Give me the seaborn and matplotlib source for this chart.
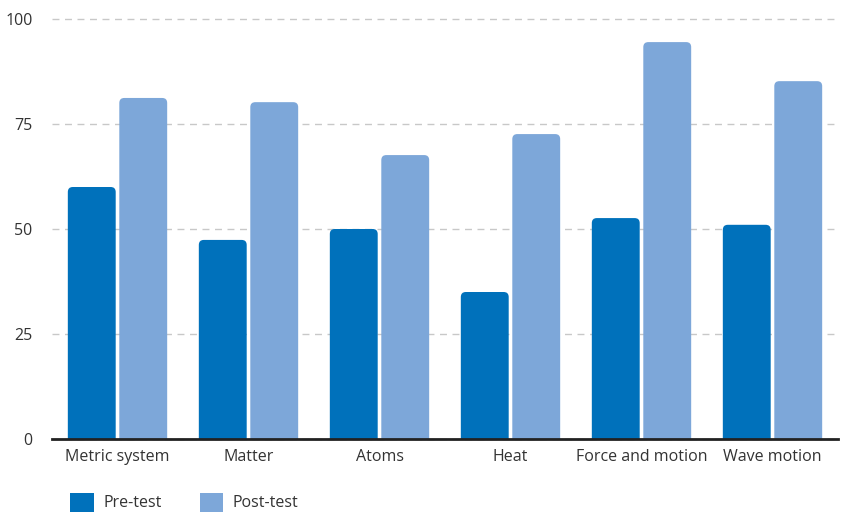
import matplotlib
matplotlib.use("Agg")
import matplotlib.pyplot as plt
import seaborn as sns
import pandas as pd
from matplotlib.patches import FancyBboxPatch, Patch

categories = ["Metric system", "Matter", "Atoms", "Heat", "Force and motion", "Wave motion"]
pre_test = [60, 47.4, 50, 35, 52.6, 51]
post_test = [81.2, 80.2, 67.6, 72.6, 94.5, 85.2]
series = ["Pre-test", "Post-test"]
colors = ["#0071BB", "#7DA7D9"]
yticks = [0, 25, 50, 75, 100]

df = pd.DataFrame({
    "category": categories * 2,
    "value": pre_test + post_test,
    "series": [series[0]] * len(categories) + [series[1]] * len(categories),
})

sns.set_theme(style="white")
plt.rcParams["font.family"] = ["Open Sans", "DejaVu Sans"]

fig = plt.figure(figsize=(8.41, 5.13), dpi=100)
ax = fig.add_axes([52 / 841, (513 - 439) / 513, (838 - 52) / 841, (439 - 19) / 513])

sns.barplot(data=df, x="category", y="value", hue="series", palette=colors,
            saturation=1, width=0.786, gap=0.07, ax=ax, legend=False,
            edgecolor="none", linewidth=0)

ax.set_ylim(0, 100)
ax.set_xlim(-0.5, len(categories) - 0.5)
ax.set_yticks(yticks)
ax.set_yticklabels([str(t) for t in yticks])
ax.yaxis.grid(True, linestyle=(0, (5, 4)), color="#c8c8c8", linewidth=1)
ax.set_axisbelow(True)
for g in ax.get_ygridlines():
    g.set_clip_on(False)
for s in ["left", "right", "top"]:
    ax.spines[s].set_visible(False)
ax.spines["bottom"].set_color("#222222")
ax.spines["bottom"].set_linewidth(2)
ax.spines["bottom"].set_zorder(5)
ax.tick_params(axis="both", length=0, labelsize=11.5, labelcolor="#333333")
ax.tick_params(axis="y", pad=14)
ax.tick_params(axis="x", pad=7)
ax.set_xlabel("")
ax.set_ylabel("")

# rounded top corners: replace bars with rounded patches of same geometry
bars = list(ax.patches)
px_per_x = (838 - 52) / len(categories)
px_per_y = (439 - 19) / 100
aspect = px_per_x / px_per_y
for b in bars:
    x, y = b.get_x(), b.get_y()
    w, h = b.get_width(), b.get_height()
    r = 5 / px_per_x
    ry = r * aspect
    fb = FancyBboxPatch((x + r, y - 10), w - 2 * r, h + 10 - ry,
                        boxstyle=f"round,pad={r},rounding_size={r}",
                        mutation_aspect=aspect,
                        facecolor=b.get_facecolor(), edgecolor="none", zorder=2)
    fb.set_clip_path(ax.patch)
    ax.add_patch(fb)
    b.remove()

handles = [Patch(facecolor=c, edgecolor="none") for c in colors]
fig.legend(handles, series, loc="lower left", bbox_to_anchor=(56 / 841, -13 / 513),
           ncol=2, frameon=False, fontsize=11.5, handlelength=1.45, handleheight=1.45,
           columnspacing=2.4, handletextpad=0.6, labelcolor="#333333")

fig.savefig("out.png", dpi=100)
